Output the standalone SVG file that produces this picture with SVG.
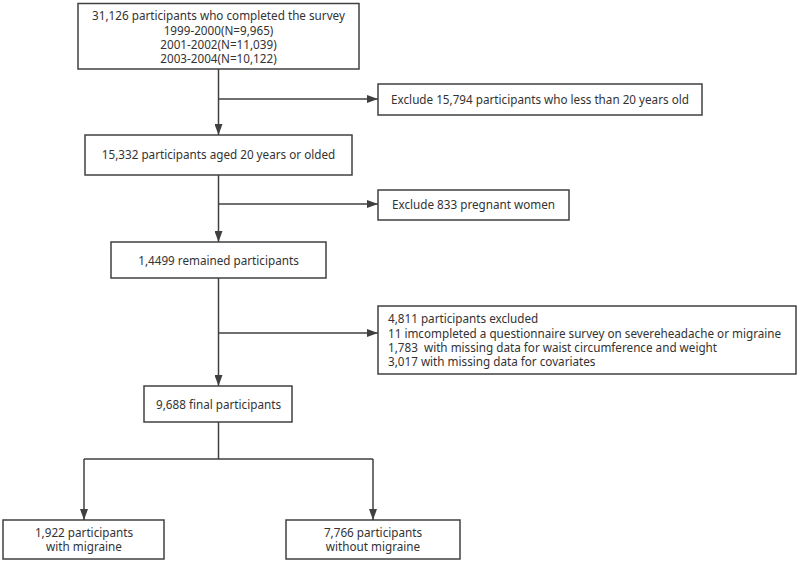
<svg xmlns="http://www.w3.org/2000/svg" width="800" height="563" viewBox="0 0 800 563">
<style>
.box{fill:#fff;stroke:#404040;stroke-width:1.5}
.t{font-family:"Noto Sans","Open Sans",sans-serif;font-size:11.7px;fill:#333}
.c{text-anchor:middle}
.ln{fill:none;stroke:#404040;stroke-width:1.5}
</style>
<defs>
<marker id="ah" viewBox="0 0 11 8" refX="11" refY="4" markerWidth="11" markerHeight="8" markerUnits="userSpaceOnUse" orient="auto">
<path d="M0,0 L11,4 L0,8 z" fill="#404040"/>
</marker>
</defs>
<rect width="800" height="563" fill="#fff"/>
<g id="connectors">
<path class="ln" d="M218.5,69 V135" marker-end="url(#ah)"/>
<path class="ln" d="M218.5,99 H378" marker-end="url(#ah)"/>
<path class="ln" d="M218.5,175 V242" marker-end="url(#ah)"/>
<path class="ln" d="M218.5,204 H378" marker-end="url(#ah)"/>
<path class="ln" d="M218.5,278 V386" marker-end="url(#ah)"/>
<path class="ln" d="M218.5,333 H378" marker-end="url(#ah)"/>
<path class="ln" d="M218.5,422 V459 M84,459 H373"/>
<path class="ln" d="M84,459 V520" marker-end="url(#ah)"/>
<path class="ln" d="M373,459 V520" marker-end="url(#ah)"/>
</g>
<g id="n1">
<rect class="box" x="78" y="3.5" width="281" height="65.5"/>
<text class="t c" x="218.5" y="20">31,126 participants who completed the survey</text>
<text class="t c" x="218.5" y="34.5">1999-2000(N=9,965)</text>
<text class="t c" x="218.5" y="48.5">2001-2002(N=11,039)</text>
<text class="t c" x="218.5" y="63">2003-2004(N=10,122)</text>
</g>
<g id="n2">
<rect class="box" x="378" y="84" width="324" height="31"/>
<text class="t c" x="540" y="103.5">Exclude 15,794 participants who less than 20 years old</text>
</g>
<g id="n3">
<rect class="box" x="85" y="135" width="267" height="40"/>
<text class="t c" x="218.5" y="159">15,332 participants aged 20 years or olded</text>
</g>
<g id="n4">
<rect class="box" x="378" y="190" width="191" height="30"/>
<text class="t c" x="473.5" y="209">Exclude 833 pregnant women</text>
</g>
<g id="n5">
<rect class="box" x="111" y="242" width="215" height="36"/>
<text class="t c" x="218.5" y="265">1,4499 remained participants</text>
</g>
<g id="n6">
<rect class="box" x="378" y="306" width="418" height="68"/>
<text class="t" x="388" y="323">4,811 participants excluded</text>
<text class="t" x="388" y="338">11 imcompleted a questionnaire survey on severeheadache or migraine</text>
<text class="t" x="388" y="352" xml:space="preserve">1,783  with missing data for waist circumference and weight</text>
<text class="t" x="388" y="366">3,017 with missing data for covariates</text>
</g>
<g id="n7">
<rect class="box" x="144" y="386" width="148" height="36"/>
<text class="t c" x="218.5" y="409">9,688 final participants</text>
</g>
<g id="n8">
<rect class="box" x="3" y="520" width="161" height="39"/>
<text class="t c" x="84" y="537">1,922 participants</text>
<text class="t c" x="84" y="551">with migraine</text>
</g>
<g id="n9">
<rect class="box" x="286" y="520" width="174" height="39"/>
<text class="t c" x="373" y="537">7,766 participants</text>
<text class="t c" x="373" y="551">without migraine</text>
</g>
</svg>
